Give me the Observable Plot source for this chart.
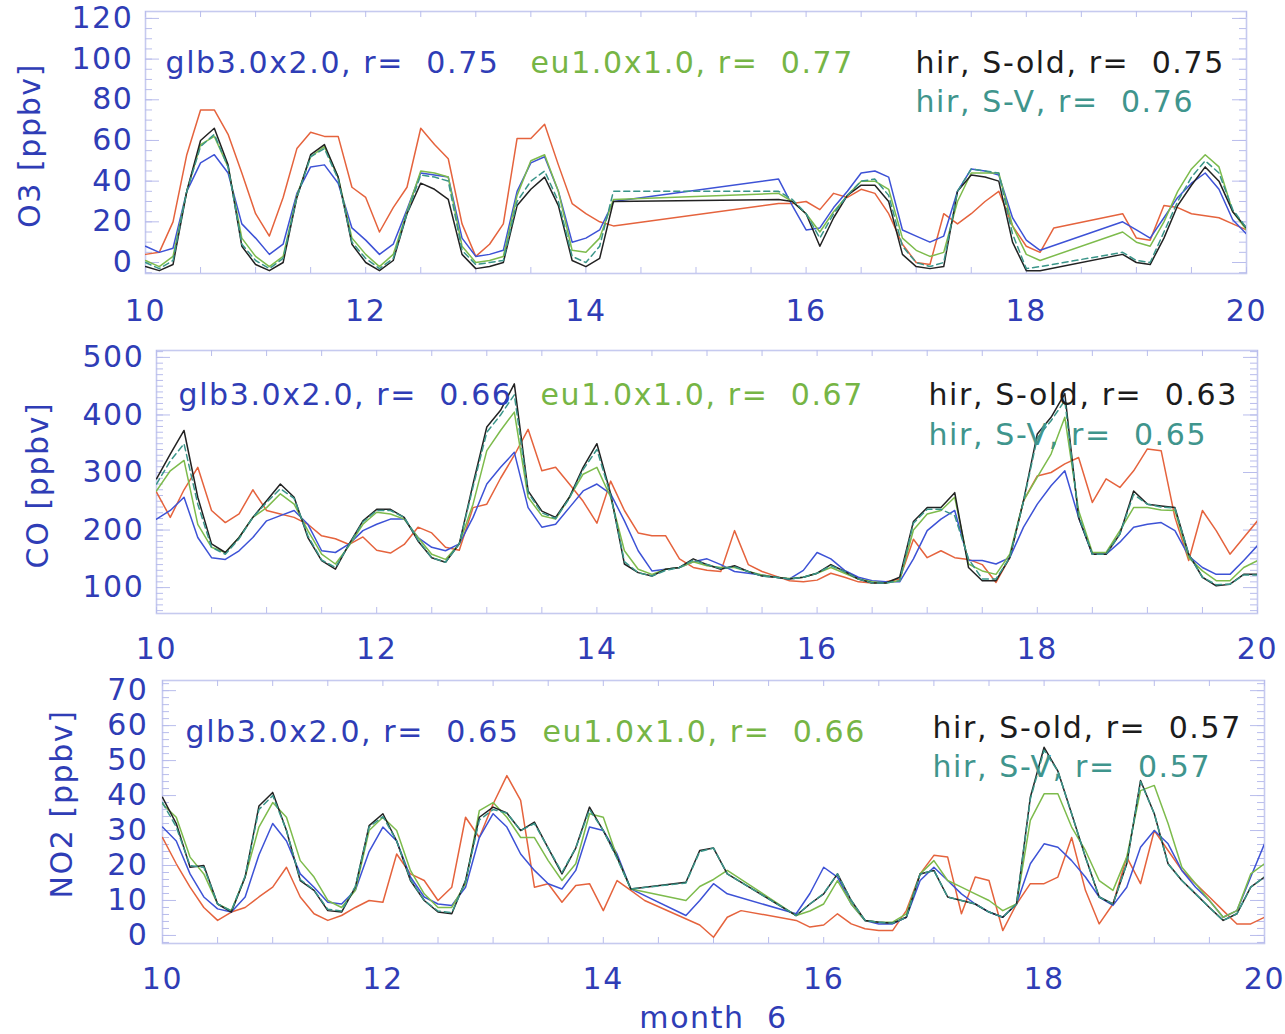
<!DOCTYPE html>
<html><head><meta charset="utf-8">
<script src="https://cdn.jsdelivr.net/npm/d3@7"></script>
<script src="https://cdn.jsdelivr.net/npm/@observablehq/plot@0.6"></script>
<style>
html,body{margin:0;padding:0;background:#fff;}
#chart{position:relative;width:1285px;height:1034px;overflow:hidden;background:#fff;}
#chart svg{position:absolute;left:0;}
svg text{white-space:pre;}
</style></head><body><div id="chart"></div>
<script>
// 3-hourly sampling, 10 to 20 (month 6)
const time = d3.range(0, 81).map(i => 10 + i / 8);
const xTickLabels = [10, 12, 14, 16, 18, 20];
const seriesNames = ["glb3.0x2.0", "eu1.0x1.0", "hir, S-old", "hir, S-V"];

// ---------- O3 [ppbv] ----------
const o3Glb = [8,5,7,35,49,53,44,19, 12,4,9,34,47,48,39,17, 11,4,9,26,44,43,42,12, 3,4,6,35,49,52,35,10,
  12,16,30,null,null,null,null,null, null,null,null,null,null,null,41,28, 16,17,27,35,44,45,42,16,
  13,10,13,35,46,45,43,22, 11,6,null,null,null,null,null,20, 16,12,22,32,39,44,36,21, 14];
const o3Eu = [1,-2,3,35,58,62,47,12, 3,-2,3,33,52,57,42,12, 4,-2,4,25,45,44,42,8, 0,1,3,33,50,53,35,6,
  5,12,31,null,null,null,null,null, null,null,null,null,null,null,34,30, 24,15,25,33,40,40,36,12,
  6,3,5,30,44,44,44,18, 4,1,null,null,null,null,null,15, 10,8,20,35,46,53,47,25, 16];
const o3Old = [-2,-4,-1,35,60,66,48,8, -1,-4,0,32,53,58,42,9, 0,-4,1,24,39,36,31,4, -3,-2,0,28,36,42,28,1,
  -2,2,30,null,null,null,null,null, null,null,null,null,null,null,31,30, 24,8,22,33,38,38,30,4,
  -2,-3,-2,35,43,42,40,10, -4,-4,null,null,null,null,null,4, 0,-1,12,28,38,47,40,25, 17];
const o3SV = [0,-3,1,35,57,63,47,9, 1,-3,2,32,52,56,41,10, 2,-3,2,24,43,42,40,6, -1,0,1,30,40,45,30,3,
  0,8,35,null,null,null,null,null, null,null,null,null,null,null,35,31, 24,12,24,33,40,41,33,8,
  0,-2,0,35,46,45,44,14, -3,-2,null,null,null,null,null,5, 1,0,15,30,42,50,44,26, 17];
const o3Obs = [4,5,20,53,75,75,63,44, 24,13,32,56,64,62,62,37, 32,15,27,37,66,58,51,19, 3,9,19,61,61,68,48,29,
  24,20,18,null,null,null,null,null, null,null,null,null,null,null,29,29, 30,26,34,32,36,34,24,9,
  0,-1,24,19,24,30,35,18, 8,5,17,null,null,null,null,24, 12,11,28,27,24,23,22,19, 16];
const o3R = [0.75, 0.77, 0.75, 0.76];
const o3Ticks = [0, 20, 40, 60, 80, 100, 120];

// ---------- CO [ppbv] ----------
const coGlb = [219,234,257,187,152,149,164,187, 216,225,234,210,164,161,176,199, 210,219,219,187,170,164,176,222,
  280,309,335,239,205,210,239,268, 280,263,216,164,129,132,135,145, 150,140,128,125,122,118,115,130,
  161,150,130,118,112,110,110,150, 199,219,234,147,147,141,152,205, 245,277,303,222,158,158,179,205,
  210,213,199,155,135,123,123,147, 173];
const coEu = [268,303,321,210,170,161,187,222, 239,263,245,199,158,141,173,210, 231,228,219,187,158,149,176,245,
  338,373,405,257,225,219,257,297, 309,257,164,132,123,132,135,145, 138,135,135,128,122,118,116,118,
  125,135,125,115,110,108,112,200, 228,234,257,141,129,123,158,251, 292,332,396,234,161,161,199,239,
  239,235,234,152,129,112,112,135, 147];
const coOld = [289,332,373,257,176,161,187,222, 251,280,257,187,147,132,176,216, 236,236,222,181,152,144,176,280,
  379,408,454,268,233,222,257,309, 350,263,141,126,120,132,135,150, 140,132,138,128,120,118,115,118,
  125,140,128,115,108,108,118,215, 239,239,265,135,112,112,152,251, 367,396,437,222,158,158,193,268,
  245,242,239,158,118,103,106,123, 123];
const coSV = [280,320,350,245,170,158,185,222, 248,272,255,190,148,135,175,214, 234,234,222,183,152,144,176,275,
  370,400,435,265,230,220,255,305, 340,260,145,126,120,130,135,148, 140,133,136,128,120,118,115,118,
  125,138,128,115,108,108,112,212, 236,236,225,150,115,115,152,250, 360,390,425,225,158,158,193,262,
  245,240,238,158,118,105,106,122, 122];
const coObs = [266,222,270,309,234,213,228,270, 234,228,222,210,190,185,175,188, 165,160,175,205,195,170,165,239,
  245,290,330,375,303,309,280,250, 212,285,234,195,190,190,150,135, 130,128,199,140,128,120,112,110,
  113,125,118,110,108,110,115,184, 152,164,152,149,140,109,152,251, 294,300,315,326,248,289,274,303,
  341,338,222,147,234,199,158,187, 216];
const coR = [0.66, 0.67, 0.63, 0.65];
const coTicks = [100, 200, 300, 400, 500];

// ---------- NO2 [ppbv] ----------
const no2Glb = [31,27,17.6,11,7.6,6.7,11,23, 32,27,17.6,13.8,9.5,9,12.9,24, 31,27,16.7,11,9,8.6,13.8,28,
  34.8,31,23.3,18.6,14.8,13.3,18.6,31, 30,23.3,13.3,null,null,null,5.7,10, 14.8,11.9,null,null,null,null,6.2,12,
  19.5,16.7,9,4.3,3.3,3.3,5.2,15.7, 19.5,15.7,11.9,9,6.7,5.2,9,20.5, 26.2,25.2,21.4,16.7,11,8.6,13.8,25.2,
  30,26.2,18.6,13.8,10,5.2,7.1,16.7, 26.2];
const no2Eu = [37.6,33.8,22.4,17.6,9,7.1,16.7,31, 38,33.8,21.4,16.7,10,8,12.9,30, 33.8,30,18.6,11.9,8,8,14.8,35.7,
  38,33.8,28,28,21.4,15.7,20.5,34.8, 33.8,22.4,13.3,null,null,null,10,14, 16,18.6,null,null,null,null,5.7,7,
  9,15.7,9,4.3,3.8,3.8,6.2,17.6, 21.4,15.7,13.8,11.9,10,7.1,9,32.9, 40.5,40.5,31,24.3,15.7,12.9,22.4,41.4,
  42.9,32,19.5,14.8,10,5.2,7.1,17.6, 20.5];
const no2Old = [39.5,32,19.5,20,9,6.7,16.7,37, 40.9,30,15.7,12.9,7.1,6.7,13.8,31.4, 34.8,27,15.7,10,6.7,6.2,15.7,33.8,
  36.7,35,30,32.4,25,17.6,25,36.7, 30,22.4,13.3,null,null,null,15.2,24.3, 25,17.6,null,null,null,null,5.7,9,
  11.9,17.6,10,4.3,3.8,3.5,5.2,17.6, 18.6,11,10,9,6.7,5.2,9,39.5, 53.8,47,34.8,22.4,11,9,20.5,44.3,
  34.8,20.5,15.7,11.9,8,4.3,6.2,13.8, 16.7];
const no2SV = [38,31,20,19.5,9,7,17,36, 40,30,16,13,7.5,7,14,31, 34,27,16,10,7,6.5,15.5,33,
  36,35,30,32,25,18,25,36, 30,22,13.3,null,null,null,15,24, 25,17.6,null,null,null,null,5.7,9,
  12,17.6,10,4.3,3.8,3.5,5.2,17.6, 18.6,11,10,9,6.7,5.2,9,39, 53,47,34.8,22.4,11,9,20.5,44,
  34.8,20.5,15.7,11.9,8,4.3,6.2,13.8, 16.7];
const no2Obs = [28,20.5,13.8,8,4.3,6.7,8,11, 13.8,19.5,11,6.2,4.3,5.7,8,10, 9.5,23.3,17.6,15.7,10,13.8,33.8,28,
  37.6,45.7,38.6,13.8,14.8,9.5,14.3,14.8, 7.1,15.7,12.9,10,null,null,null,3, -0.5,5.2,7.1,null,null,null,4.3,2.4,
  3,6.2,3.3,1.9,1.4,1.4,7.1,17.6, 22.9,22.4,6.2,16.7,15.7,1.4,9,14.8, 14.8,16.7,28,12.9,3.3,9,22.4,14.8,
  30,24.3,18.6,14.8,11,7.1,3.3,3.3, 5.2];
const no2R = [0.65, 0.66, 0.57, 0.57];
const no2Ticks = [0, 10, 20, 30, 40, 50, 60, 70];

// ---------- styling ----------
const axisBlue = "#2f3db6";
const frameColor = "#c6caef";
const tickColor = "#b9bdec";
const lineColors = ["#3d52d6", "#7dbb4c", "#222222", "#3a9589", "#e5633d"];
const textColors = ["#2f3db6", "#76b545", "#1c1c1c", "#3f958d"];
const W = 1285;

function makePanel(cfg) {
  const fh = cfg.height - cfg.mt - cfg.mb;
  const fw = W - cfg.ml - cfg.mr;
  const series = cfg.series;
  const lines = [];
  for (const k of [4, 0, 1, 2, 3]) {
    const rows = [];
    series[k].forEach((v, i) => { if (v !== null) rows.push({t: time[i], v}); });
    lines.push(Plot.line(rows, {
      x: "t", y: "v", stroke: lineColors[k], strokeWidth: 1.5,
      strokeDasharray: k === 3 ? "6,4" : null, clip: true
    }));
  }
  const xMinor = d3.range(10, 20.001, 0.5);
  const legends = cfg.legendPos.map((p, k) =>
    Plot.text([`${seriesNames[k]}, r=  ${cfg.r[k].toFixed(2)}`], {
      frameAnchor: "top-left", dx: p[0], dy: p[1], textAnchor: "start",
      lineAnchor: "middle", fill: textColors[k]
    }));
  const marks = [
    Plot.frame({stroke: frameColor, strokeWidth: 1.6}),
    Plot.tickX(xMinor, {x: d => d, stroke: tickColor, insetTop: fh - 6}),
    Plot.tickX(xMinor, {x: d => d, stroke: tickColor, insetBottom: fh - 6}),
    Plot.tickY(cfg.yMinor, {y: d => d, stroke: tickColor, insetRight: fw - 7}),
    Plot.tickY(cfg.yMinor, {y: d => d, stroke: tickColor, insetLeft: fw - 7}),
    Plot.tickY(cfg.yTicks, {y: d => d, stroke: tickColor, insetRight: fw - 14}),
    Plot.tickY(cfg.yTicks, {y: d => d, stroke: tickColor, insetLeft: fw - 14}),
    ...lines,
    Plot.axisX(xTickLabels, {anchor: "bottom", tickSize: 0, tickPadding: cfg.xPad, label: null}),
    Plot.axisY(cfg.yTicks, {anchor: "left", tickSize: 0, tickPadding: cfg.yPad, label: null}),
    Plot.text([cfg.title], {frameAnchor: "left", rotate: -90, dx: cfg.titleDx, dy: cfg.titleDy,
      textAnchor: "middle", lineAnchor: "middle", fill: axisBlue}),
    ...legends
  ];
  if (cfg.xTitle) {
    marks.push(Plot.text([cfg.xTitle], {frameAnchor: "bottom", dy: cfg.xTitleDy,
      textAnchor: "middle", lineAnchor: "middle", fill: axisBlue}));
  }
  const svg = Plot.plot({
    width: W, height: cfg.height,
    marginLeft: cfg.ml, marginRight: cfg.mr, marginTop: cfg.mt, marginBottom: cfg.mb,
    x: {domain: [10, 20], label: null},
    y: {domain: cfg.yDomain, label: null},
    style: {fontFamily: "'DejaVu Sans', sans-serif", fontSize: "30px", color: axisBlue,
      letterSpacing: "1.6px", background: "transparent", overflow: "visible"},
    marks
  });
  svg.style.top = cfg.top + "px";
  return svg;
}

const chart = document.getElementById("chart");
chart.appendChild(makePanel({
  top: 0, height: 340, ml: 145, mr: 39, mt: 11, mb: 67,
  yDomain: [-5.4, 123.4], yTicks: o3Ticks, yMinor: d3.range(-5, 124, 5),
  series: [o3Glb, o3Eu, o3Old, o3SV, o3Obs], r: o3R,
  title: "O3 [ppbv]", titleDx: -115, titleDy: 3, xPad: 26, yPad: 12,
  legendPos: [[20, 52], [385, 52], [770, 52], [770, 91]]
}));
chart.appendChild(makePanel({
  top: 338, height: 337, ml: 156, mr: 28, mt: 12, mb: 62,
  yDomain: [55, 512], yTicks: coTicks, yMinor: d3.range(60, 512, 10),
  series: [coGlb, coEu, coOld, coSV, coObs], r: coR,
  title: "CO [ppbv]", titleDx: -118, titleDy: 3, xPad: 24, yPad: 12,
  legendPos: [[22, 45], [384, 45], [772, 45], [772, 85]]
}));
chart.appendChild(makePanel({
  top: 675, height: 359, ml: 162, mr: 21, mt: 5, mb: 91,
  yDomain: [-2.3, 72.9], yTicks: no2Ticks, yMinor: d3.range(-2, 73, 2),
  series: [no2Glb, no2Eu, no2Old, no2SV, no2Obs], r: no2R,
  title: "NO2 [ppbv]", titleDx: -100, titleDy: -8, xPad: 24, yPad: 14,
  legendPos: [[23, 52], [380, 52], [770, 48], [770, 87]],
  xTitle: "month  6", xTitleDy: 75
}));
</script></body></html>
